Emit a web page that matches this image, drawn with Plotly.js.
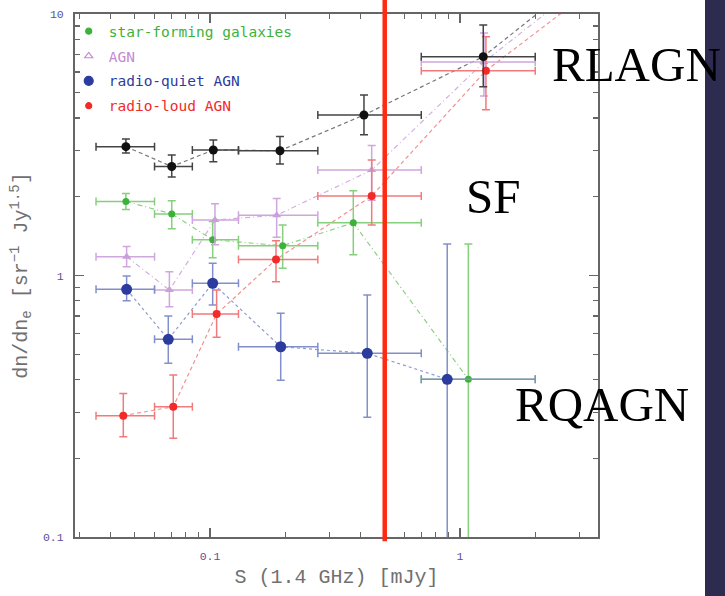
<!DOCTYPE html>
<html>
<head>
<meta charset="utf-8">
<script src="https://cdn.plot.ly/plotly-3.0.1.min.js"></script>
<style>
  html, body { margin: 0; padding: 0; background: #ffffff; }
  #chart { width: 725px; height: 596px; }
</style>
</head>
<body>
<div id="chart"></div>
<script>
// ---- data ----
// flux-density bins [mJy]
const binLo = [0.035, 0.060, 0.085, 0.13, 0.27, 0.70];
const binHi = [0.060, 0.085, 0.13, 0.27, 0.70, 2.0];

// all sources (black)
const allS   = [0.0461, 0.0703, 0.1031, 0.1905, 0.413, 1.239];
const allN   = [3.11, 2.61, 3.02, 3.00, 4.11, 6.87];
const allHi  = [3.33, 2.89, 3.30, 3.40, 4.90, 9.08];
const allLo  = [2.94, 2.38, 2.72, 2.67, 3.45, 5.27];
const allNextS = 3.16, allNextN = 14.0;   // next bin, above the plotted range

// star-forming galaxies (green)
const sfS   = [0.0461, 0.0703, 0.1025, 0.1953, 0.3743, 1.08];
const sfN   = [1.92, 1.72, 1.37, 1.30, 1.59, 0.401];
const sfHi  = [2.06, 1.93, 1.61, 1.56, 2.11, 1.32];
const sfLo  = [1.79, 1.51, 1.17, 1.065, 1.20, 0.05];

// AGN (purple)
const agnS  = [0.0464, 0.0688, 0.1047, 0.1848, 0.4434, 1.247];
const agnN  = [1.18, 0.880, 1.63, 1.70, 2.53, 6.55];
const agnHi = [1.29, 1.034, 1.88, 1.97, 3.14, 8.46];
const agnLo = [1.08, 0.760, 1.31, 1.40, 1.94, 4.86];
const agnNextS = 3.16, agnNextN = 13.2;

// radio-quiet AGN (blue)
const rqS   = [0.0464, 0.0681, 0.1025, 0.1918, 0.4257, 0.889];
const rqN   = [0.885, 0.570, 0.934, 0.534, 0.504, 0.401];
const rqHi  = [0.996, 0.700, 1.114, 0.717, 0.842, 1.32];
const rqLo  = [0.801, 0.4615, 0.771, 0.398, 0.287, 0.05];

// radio-loud AGN (red)
const rlS   = [0.045, 0.0713, 0.1063, 0.1837, 0.4434, 1.27];
const rlN   = [0.291, 0.315, 0.7125, 1.151, 2.014, 6.07];
const rlHi  = [0.354, 0.4163, 0.880, 1.359, 2.765, 8.19];
const rlLo  = [0.2418, 0.2384, 0.580, 0.947, 1.56, 4.30];
const rlNextS = 3.16, rlNextN = 11.8;

const threshold = 0.5; // mJy

// axis ticks
const xTickVals = [0.1, 1];
const xTickText = ['0.1', '1'];
const xMinorVals = [0.03,0.04,0.05,0.06,0.07,0.08,0.09,0.2,0.3,0.4,0.5,0.6,0.7,0.8,0.9,2,3];
const yTickVals = [0.1, 1, 10];
const yTickText = ['0.1', '1', '10'];
const yMinorVals = [0.2,0.3,0.4,0.5,0.6,0.7,0.8,0.9,2,3,4,5,6,7,8,9];

const legendNames = ['star-forming galaxies', 'AGN', 'radio-quiet AGN', 'radio-loud AGN'];

// ---- helpers ----
function diff(a, b) { return a.map((v, i) => v - b[i]); }

function series(xs, ys, hi, lo, opt) {
  return {
    type: 'scatter', mode: 'markers', x: xs, y: ys, showlegend: false, hoverinfo: 'skip',
    marker: { color: opt.mcolor, size: opt.size, symbol: opt.symbol || 'circle',
              line: { width: 0 } },
    error_y: { type: 'data', symmetric: false, array: diff(hi, ys), arrayminus: diff(ys, lo),
               color: opt.ecolor, thickness: 1.5, width: 4 },
    error_x: { type: 'data', symmetric: false, array: diff(binHi, xs), arrayminus: diff(xs, binLo),
               color: opt.ecolor, thickness: 1.5, width: 4 }
  };
}
function conn(xs, ys, opt) {
  return { type: 'scatter', mode: 'lines', x: xs, y: ys, showlegend: false, hoverinfo: 'skip',
           line: { color: opt.color, width: 1.2, dash: opt.dash } };
}
function leg(name, color, symbol, size, idx) {
  return { type: 'scatter', mode: 'markers', x: [null], y: [null], legendgroup: 'g' + idx,
           name: '<span style="color:' + color + '">' + name + '</span>',
           marker: { color: color, symbol: symbol, size: size, line: { color: color, width: 1.2 } } };
}

const cBlack = '#111111', cGreen = '#3db23a', cPurple = '#c48ad3', cBlue = '#2b3c9e', cRed = '#f22a2a';

const traces = [
  conn(allS.concat([allNextS]), allN.concat([allNextN]), { color: '#777777', dash: '4px,3px' }),
  conn(sfS, sfN, { color: '#8fd085', dash: '5px,3px,1px,3px' }),
  conn(agnS.concat([agnNextS]), agnN.concat([agnNextN]), { color: '#d4aee0', dash: '5px,3px,1px,3px' }),
  conn(rqS, rqN, { color: '#8e9ad2', dash: '3px,3px' }),
  conn(rlS.concat([rlNextS]), rlN.concat([rlNextN]), { color: '#f39090', dash: '4px,3px' }),

  series(sfS, sfN, sfHi, sfLo, { mcolor: cGreen, size: 7, ecolor: '#86cf7c' }),
  series(agnS, agnN, agnHi, agnLo, { mcolor: '#c9a0d8', size: 8, symbol: 'triangle-up', ecolor: '#cfa6dd' }),
  series(rqS, rqN, rqHi, rqLo, { mcolor: cBlue, size: 11, ecolor: '#8190cc' }),
  series(rlS, rlN, rlHi, rlLo, { mcolor: cRed, size: 8, ecolor: '#f27a7a' }),
  series(allS, allN, allHi, allLo, { mcolor: cBlack, size: 9, ecolor: '#444444' }),

  leg(legendNames[0], cGreen, 'circle', 6, 0),
  leg(legendNames[1], cPurple, 'triangle-up-open', 7, 1),
  leg(legendNames[2], cBlue, 'circle', 9, 2),
  leg(legendNames[3], cRed, 'circle', 6, 3)
];

const axisCommon = {
  type: 'log', showgrid: false, zeroline: false,
  showline: true, linecolor: '#666666', linewidth: 2, mirror: 'allticks',
  ticks: 'inside', ticklen: 9, tickwidth: 1.3, tickcolor: '#666666',
  tickmode: 'array',
  tickfont: { family: 'Liberation Mono', size: 11.5, color: '#5a4f9a' }
};

const layout = {
  width: 725, height: 596,
  margin: { l: 75, r: 127, t: 14, b: 59 },
  paper_bgcolor: '#ffffff', plot_bgcolor: '#ffffff',
  showlegend: true,
  legend: { x: -0.012, y: 0.9977, xanchor: 'left', yanchor: 'top', bgcolor: 'rgba(0,0,0,0)',
            borderwidth: 0, tracegroupgap: 3, itemwidth: 30,
            font: { family: 'DejaVu Sans Mono', size: 14.5 } },
  xaxis: Object.assign({}, axisCommon, {
    range: [Math.log10(0.02884), Math.log10(3.565)],
    tickvals: xTickVals, ticktext: xTickText, ticklabelstandoff: 7,
    minor: { tickvals: xMinorVals, ticks: 'inside', ticklen: 5, tickwidth: 1.2, tickcolor: '#666666' },
    title: { text: 'S (1.4 GHz) [mJy]', standoff: 7,
             font: { family: 'Liberation Mono', size: 20, color: '#707070' } }
  }),
  yaxis: Object.assign({}, axisCommon, {
    range: [-1, 1],
    tickvals: yTickVals, ticktext: yTickText, ticklabelstandoff: 7,
    minor: { tickvals: yMinorVals, ticks: 'inside', ticklen: 5, tickwidth: 1.2, tickcolor: '#666666' },
    title: { text: 'dn/dn<sub>e</sub> [sr<sup>−1</sup> Jy<sup>1.5</sup>]', standoff: 10,
             font: { family: 'Liberation Mono', size: 20, color: '#707070' } }
  }),
  shapes: [
    { type: 'rect', xref: 'paper', yref: 'paper', x0: 1.2046, x1: 1.26, y0: -0.15, y1: 1.1,
      fillcolor: '#2e2b50', line: { width: 0 }, layer: 'below' },
    { type: 'line', xref: 'x', yref: 'paper', x0: threshold, x1: threshold, y0: -0.008, y1: 1.03,
      line: { color: '#ff2a12', width: 4.5 }, layer: 'above' }
  ],
  annotations: [
    { text: 'RLAGN', xref: 'paper', yref: 'paper', x: 1.074, y: 0.9025, xanchor: 'center', yanchor: 'middle',
      showarrow: false, font: { family: 'Liberation Serif', size: 49, color: '#000000' } },
    { text: 'SF', xref: 'paper', yref: 'paper', x: 0.7998, y: 0.6507, xanchor: 'center', yanchor: 'middle',
      showarrow: false, font: { family: 'Liberation Serif', size: 49, color: '#000000' } },
    { text: 'RQAGN', xref: 'paper', yref: 'paper', x: 1.0086, y: 0.2543, xanchor: 'center', yanchor: 'middle',
      showarrow: false, font: { family: 'Liberation Serif', size: 49, color: '#000000' } }
  ]
};

Plotly.newPlot('chart', traces, layout, { staticPlot: true, displayModeBar: false });
</script>
</body>
</html>
